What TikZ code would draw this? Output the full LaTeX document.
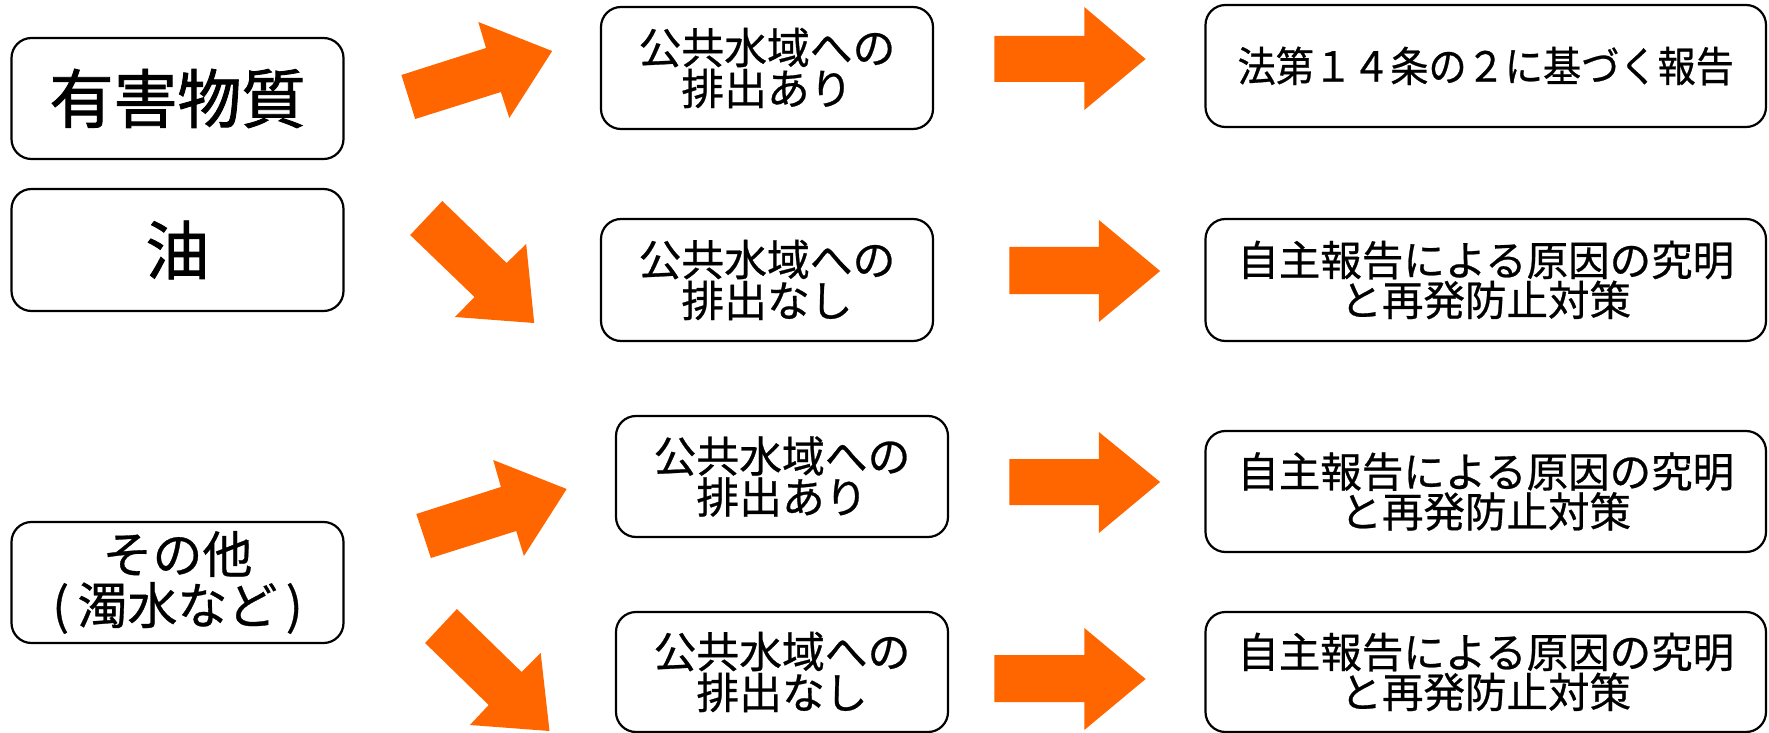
\documentclass[tikz,border=0pt]{standalone}
\usepackage{fontspec}
\newfontfamily\jp[FakeBold=0.6]{Noto Sans CJK JP}
\newfontfamily\jpb[FakeBold=1.4]{Noto Sans CJK JP}
\newfontfamily\jpc[FakeStretch=0.92,FakeBold=0.6]{Noto Sans CJK JP}
\definecolor{arroworange}{HTML}{FF6600}
\begin{document}
\begin{tikzpicture}[x=0.5pt,y=-0.5pt,
  box/.style={draw=black, line width=1.1pt, rounded corners=10pt, fill=white, align=center, inner sep=0pt},
  srcbox/.style={box, minimum width=166pt, minimum height=60.5pt},
  midbox/.style={box, minimum width=166pt, minimum height=61pt, font=\jp\fontsize{21.4}{20.5}\selectfont},
  resbox/.style={box, minimum width=280.25pt, minimum height=61pt, font=\jp\fontsize{20.75}{20}\selectfont},
  blockarrow/.style={fill=arroworange, draw=none}]
\useasboundingbox (0,0) rectangle (1769,733);

% source boxes
\node[srcbox, font=\jpb\fontsize{32}{34}\selectfont] (yugai) at (177.5,98.5) {有害物質};
\node[srcbox, font=\jpb\fontsize{32}{34}\selectfont, minimum height=61pt] (abura) at (177.5,250) {油};
\node[srcbox, font=\jp\fontsize{25}{25.5}\selectfont] (sonota) at (177.5,582.5) {その他\\(\,濁水など\,)};

% middle boxes
\node[midbox] (m1) at (767,68) {公共水域への\\排出あり};
\node[midbox] (m2) at (767,280) {公共水域への\\排出なし};
\node[midbox, minimum height=60.5pt] (m3) at (782,476.5) {公共水域への\\排出あり};
\node[midbox, minimum height=60pt] (m4) at (782,672) {公共水域への\\排出なし};

% result boxes
\node[resbox, font=\jpc\fontsize{20.75}{20}\selectfont] (r1) at (1485.75,66) {法第１４条の２に基づく報告};
\node[resbox] (r2) at (1485.75,280) {自主報告による原因の究明\\と再発防止対策};
\node[resbox, minimum height=60.5pt] (r3) at (1485.75,491.5) {自主報告による原因の究明\\と再発防止対策};
\node[resbox, minimum height=60pt] (r4) at (1485.75,672) {自主報告による原因の究明\\と再発防止対策};

% diagonal block arrows
\fill[blockarrow] (415.2,119) -- (401.4,75) -- (486.0,48) -- (478.3,22) -- (552.2,51) -- (509.3,118) -- (500.9,92) -- cycle;
\fill[blockarrow] (442.3,201) -- (410.2,235) -- (474.5,297) -- (455.0,317) -- (534.2,323) -- (526.2,244) -- (506.6,263) -- cycle;
\fill[blockarrow] (430.9,558) -- (416.3,514) -- (500.9,487) -- (493.2,460) -- (566.7,489) -- (523.9,556) -- (516.2,531) -- cycle;
\fill[blockarrow] (456.9,609) -- (425.1,643) -- (488.7,705) -- (469.9,725) -- (549.5,731) -- (540.7,653) -- (521.6,672) -- cycle;

% horizontal block arrows
\fill[blockarrow] (994.4,36) -- (1084.3,36) -- (1084.3,7) -- (1145.6,59) -- (1084.3,110) -- (1084.3,82) -- (994.4,82) -- cycle;
\fill[blockarrow] (1009.3,247) -- (1098.9,247) -- (1098.9,220) -- (1160.1,271) -- (1098.9,322) -- (1098.9,294) -- (1009.3,294) -- cycle;
\fill[blockarrow] (1009.3,459) -- (1098.9,459) -- (1098.9,432) -- (1160.1,482) -- (1098.9,533) -- (1098.9,505) -- (1009.3,505) -- cycle;
\fill[blockarrow] (994.4,655) -- (1084.3,655) -- (1084.3,628) -- (1145.6,679) -- (1084.3,730) -- (1084.3,702) -- (994.4,702) -- cycle;
\end{tikzpicture}
\end{document}
